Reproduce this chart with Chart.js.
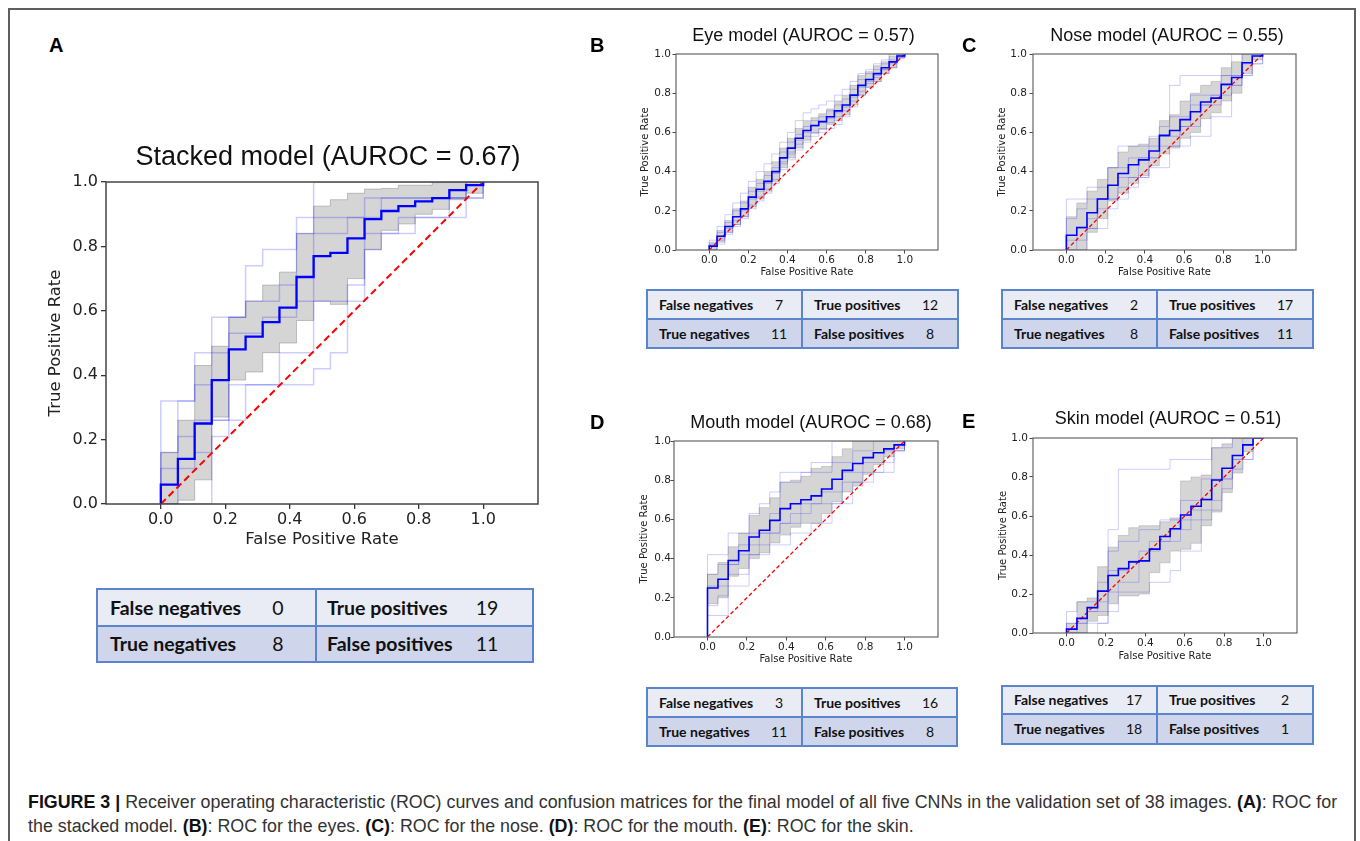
<!DOCTYPE html>
<html><head><meta charset="utf-8"><title>ROC curves</title>
<script src="https://cdn.jsdelivr.net/npm/chart.js@4.4.1/dist/chart.umd.min.js"></script>
<style>
html,body{margin:0;padding:0;background:#fff;}
#page{position:relative;width:1360px;height:841px;overflow:hidden;background:#fff;font-family:"Liberation Sans",Arial,sans-serif;}
#frame{position:absolute;left:8px;top:8px;width:1348px;height:850px;border:2px solid #5e5e5e;border-bottom:none;box-sizing:border-box;}
.letter{position:absolute;font-weight:bold;font-size:20px;line-height:20px;color:#000;}
.ptitle{position:absolute;white-space:nowrap;color:#111;transform:translate(-50%,-50%);line-height:1;}
canvas{position:absolute;}
.cell{position:absolute;box-sizing:border-box;}
.tline{position:absolute;background:#5a84cc;}
.ttxt{position:absolute;white-space:nowrap;font-family:Lato,"Open Sans",sans-serif;color:#111;}
.cap{position:absolute;left:28px;white-space:nowrap;color:#333;line-height:1;transform:translateY(-50%);}
.cap b{color:#111;}
</style></head>
<body><div id="page"><div id="frame"></div></div>
<script>
// ---------- data ----------
const xTickVals = [0, 0.2, 0.4, 0.6, 0.8, 1.0];
const yTickVals = [0, 0.2, 0.4, 0.6, 0.8, 1.0];
const fpr19 = [0, 0.053, 0.105, 0.158, 0.211, 0.263, 0.316, 0.368, 0.421, 0.474, 0.526, 0.579, 0.632, 0.684, 0.737, 0.789, 0.842, 0.895, 0.947, 1.0];
const fpr25 = [0, 0.04, 0.08, 0.12, 0.16, 0.20, 0.24, 0.28, 0.32, 0.36, 0.40, 0.44, 0.48, 0.52, 0.56, 0.60, 0.64, 0.68, 0.72, 0.76, 0.80, 0.84, 0.88, 0.92, 0.96, 1.00];

// A: stacked
const aMean  = [0.06,0.14,0.25,0.385,0.48,0.52,0.565,0.61,0.705,0.77,0.78,0.825,0.885,0.91,0.925,0.94,0.95,0.975,0.99,1.0];
const aUpper = [0.16,0.26,0.43,0.49,0.58,0.63,0.68,0.72,0.84,0.925,0.945,0.965,0.978,0.98,0.99,0.99,1.0,1.0,1.0,1.0];
const aLower = [0,0.012,0.075,0.27,0.385,0.41,0.47,0.50,0.57,0.63,0.62,0.70,0.79,0.85,0.87,0.90,0.915,0.945,0.965,1.0];
const aFolds = [
  [0.32,0.32,0.47,0.58,0.58,0.74,0.79,0.79,0.84,1,1,1,1,1,1,1,1,1,1,1],
  [0.16,0.32,0.37,0.47,0.58,0.63,0.63,0.68,0.89,0.89,0.89,0.89,0.95,0.95,0.95,0.95,0.95,0.95,1,1],
  [0.11,0.21,0.26,0.26,0.53,0.53,0.58,0.58,0.63,0.84,0.84,0.89,0.89,0.95,0.95,0.95,0.95,0.95,1,1],
  [0,0.11,0.16,0.21,0.26,0.37,0.37,0.47,0.47,0.63,0.63,0.68,0.84,0.84,0.89,0.89,0.89,0.89,0.95,1],
  [0,0,0,0.26,0.37,0.37,0.37,0.37,0.37,0.42,0.47,0.63,0.79,0.84,0.84,0.89,0.89,0.95,0.95,1]
];
// B: eye
const bMean  = [0.02,0.07,0.12,0.17,0.21,0.27,0.31,0.35,0.40,0.47,0.52,0.57,0.61,0.635,0.655,0.68,0.71,0.74,0.79,0.84,0.87,0.90,0.93,0.96,0.99,1.0];
const bUpper = [0.04,0.10,0.15,0.21,0.25,0.32,0.36,0.40,0.45,0.52,0.57,0.62,0.66,0.675,0.695,0.72,0.76,0.79,0.84,0.89,0.91,0.94,0.96,0.99,1.0,1.0];
const bLower = [0.0,0.04,0.09,0.13,0.17,0.22,0.26,0.30,0.35,0.42,0.47,0.52,0.56,0.595,0.615,0.64,0.66,0.69,0.74,0.79,0.83,0.86,0.90,0.93,0.98,1.0];
const bFolds = [
  [0.05,0.12,0.18,0.24,0.29,0.35,0.40,0.44,0.49,0.55,0.60,0.66,0.70,0.72,0.74,0.76,0.79,0.82,0.86,0.90,0.92,0.95,0.97,1,1,1],
  [0.03,0.09,0.14,0.20,0.24,0.30,0.34,0.38,0.42,0.50,0.55,0.59,0.63,0.66,0.68,0.71,0.74,0.77,0.82,0.87,0.90,0.92,0.95,0.97,1,1],
  [0.02,0.06,0.11,0.15,0.20,0.26,0.30,0.34,0.39,0.45,0.50,0.56,0.60,0.63,0.65,0.67,0.70,0.73,0.78,0.83,0.86,0.89,0.92,0.96,0.99,1],
  [0.0,0.05,0.09,0.13,0.17,0.23,0.27,0.31,0.36,0.44,0.49,0.54,0.58,0.60,0.62,0.65,0.68,0.71,0.76,0.81,0.85,0.88,0.92,0.95,0.98,1],
  [0.0,0.03,0.08,0.12,0.16,0.21,0.25,0.29,0.34,0.41,0.46,0.51,0.55,0.58,0.60,0.62,0.64,0.68,0.73,0.79,0.83,0.86,0.90,0.93,0.98,1]
];
// C: nose
const cMean  = [0.075,0.115,0.19,0.26,0.33,0.39,0.435,0.46,0.505,0.585,0.61,0.665,0.705,0.755,0.775,0.845,0.88,0.955,0.99,1.0];
const cUpper = [0.17,0.24,0.30,0.36,0.42,0.50,0.53,0.54,0.57,0.66,0.69,0.76,0.80,0.84,0.86,0.93,0.96,1.0,1.0,1.0];
const cLower = [0,0,0.09,0.16,0.25,0.29,0.34,0.38,0.43,0.49,0.52,0.57,0.60,0.67,0.70,0.76,0.80,0.90,0.97,1.0];
const cFolds = [
  [0.26,0.26,0.32,0.32,0.42,0.53,0.53,0.53,0.53,0.63,0.84,0.89,0.89,0.89,0.89,0.89,1,1,1,1],
  [0.16,0.21,0.26,0.26,0.42,0.42,0.47,0.47,0.58,0.58,0.68,0.68,0.79,0.79,0.79,0.89,0.89,1,1,1],
  [0.05,0.11,0.11,0.26,0.26,0.37,0.37,0.47,0.47,0.53,0.53,0.63,0.63,0.74,0.74,0.84,0.84,0.95,0.95,1],
  [0,0,0.16,0.21,0.21,0.32,0.32,0.37,0.42,0.42,0.53,0.53,0.58,0.58,0.68,0.68,0.84,0.89,0.95,1],
  [0,0.05,0.11,0.11,0.26,0.26,0.37,0.37,0.47,0.58,0.58,0.63,0.74,0.74,0.79,0.79,0.89,0.89,1,1]
];
// D: mouth
const dMean  = [0.25,0.295,0.39,0.44,0.51,0.545,0.595,0.655,0.68,0.70,0.72,0.755,0.805,0.85,0.885,0.915,0.94,0.96,0.98,1.0];
const dUpper = [0.32,0.38,0.46,0.53,0.62,0.66,0.71,0.79,0.80,0.82,0.86,0.87,0.92,0.96,1.0,1.0,1.0,1.0,1.0,1.0];
const dLower = [0.17,0.20,0.31,0.35,0.40,0.43,0.48,0.52,0.56,0.58,0.58,0.63,0.69,0.74,0.77,0.83,0.88,0.92,0.96,1.0];
const dFolds = [
  [0.42,0.42,0.53,0.53,0.63,0.68,0.74,0.84,0.84,0.84,0.89,0.89,1,1,1,1,1,1,1,1],
  [0.32,0.37,0.37,0.47,0.53,0.53,0.63,0.79,0.79,0.84,0.84,0.84,0.89,0.89,0.95,0.95,1,1,1,1],
  [0.26,0.26,0.37,0.42,0.42,0.53,0.53,0.58,0.58,0.68,0.68,0.74,0.74,0.84,0.84,0.89,0.89,0.95,0.95,1],
  [0.16,0.21,0.32,0.32,0.42,0.42,0.47,0.47,0.53,0.53,0.58,0.58,0.68,0.68,0.79,0.79,0.84,0.84,0.95,1],
  [0.11,0.11,0.26,0.26,0.47,0.47,0.53,0.58,0.63,0.63,0.68,0.68,0.68,0.79,0.79,0.84,0.84,0.89,0.95,1]
];
// E: skin
const eMean  = [0.02,0.075,0.13,0.215,0.295,0.33,0.365,0.37,0.43,0.495,0.535,0.605,0.65,0.685,0.785,0.845,0.91,0.965,1.0,1.0];
const eUpper = [0.05,0.16,0.18,0.34,0.44,0.50,0.54,0.55,0.55,0.57,0.59,0.78,0.80,0.81,0.95,0.97,1.0,1.0,1.0,1.0];
const eLower = [0,0,0.06,0.09,0.15,0.19,0.19,0.20,0.31,0.36,0.42,0.43,0.46,0.55,0.62,0.72,0.82,0.93,1.0,1.0];
const eFolds = [
  [0.05,0.05,0.11,0.16,0.53,0.84,0.84,0.84,0.84,0.84,0.89,0.89,0.89,0.89,1,1,1,1,1,1],
  [0.11,0.16,0.16,0.26,0.42,0.47,0.47,0.53,0.53,0.58,0.58,0.68,0.68,0.79,0.95,0.95,1,1,1,1],
  [0,0.05,0.11,0.11,0.32,0.32,0.37,0.37,0.47,0.47,0.53,0.53,0.63,0.63,0.79,0.79,0.89,1,1,1],
  [0,0,0.05,0.05,0.21,0.26,0.26,0.42,0.42,0.47,0.47,0.58,0.58,0.68,0.68,0.79,0.84,0.89,1,1],
  [0,0,0,0.05,0.11,0.21,0.21,0.21,0.26,0.26,0.32,0.42,0.42,0.58,0.63,0.74,0.89,0.89,1,1]
];

const titles = {
  A: 'Stacked model (AUROC = 0.67)', B: 'Eye model (AUROC = 0.57)', C: 'Nose model (AUROC = 0.55)',
  D: 'Mouth model (AUROC = 0.68)', E: 'Skin model (AUROC = 0.51)'
};
const tableA = [['False negatives','0','True positives','19'],['True negatives','8','False positives','11']];
const tableB = [['False negatives','7','True positives','12'],['True negatives','11','False positives','8']];
const tableC = [['False negatives','2','True positives','17'],['True negatives','8','False positives','11']];
const tableD = [['False negatives','3','True positives','16'],['True negatives','11','False positives','8']];
const tableE = [['False negatives','17','True positives','2'],['True negatives','18','False positives','1']];

// ---------- layout ----------
const page = document.getElementById('page');
const big = {yw:86, pt:14, pr:10, xh:56, tick:16, lab:16.5, tl:5, mean:2.3, fold:1.5, diag:2, dash:[7,4], frame:1.5, frameColor:'#444', tickW:1.3, band:1};
const small = {yw:50, pt:10, pr:6, xh:32, tick:10.5, lab:10, tl:3.5, mean:1.6, fold:1, diag:1.3, dash:[4,2.5], frame:1.2, frameColor:'#666', tickW:0.9, band:0.7};
const LAY = {
  A: Object.assign({}, big,   {area:[106,182,538,504], ytr:98,   ylx:56,    xty:520,   xly:540,   tx:328,   ty:156, tsz:27, lx:49,  ly:35}),
  B: Object.assign({}, small, {area:[676,54,938,250],  ytr:671,  ylx:645,   xty:260.5, xly:272.5, tx:803.5, ty:35,  tsz:18, lx:590, ly:35}),
  C: Object.assign({}, small, {area:[1033,54,1296,250],ytr:1027, ylx:1002.5,xty:260.5, xly:272.3, tx:1167,  ty:35,  tsz:18, lx:962, ly:35}),
  D: Object.assign({}, small, {area:[674,441,938,637], ytr:671,  ylx:644.5, xty:647.3, xly:659.3, tx:811,   ty:421.7,tsz:18,lx:590, ly:412}),
  E: Object.assign({}, small, {area:[1033,438,1297,633],ytr:1028,ylx:1003,  xty:643.3, xly:656,   tx:1168,  ty:418, tsz:18, lx:962, ly:411})
};

const framePlugin = {
  id: 'axframe',
  afterDatasetsDraw(chart, args, opts) {
    const {ctx, chartArea: a} = chart;
    ctx.save();
    ctx.strokeStyle = opts.color; ctx.lineWidth = opts.width;
    ctx.strokeRect(a.left, a.top, a.right - a.left, a.bottom - a.top);
    ctx.restore();
  }
};

function pts(xs, ys) {
  const out = [{x: 0, y: 0}];
  xs.forEach((x, i) => out.push({x: x, y: ys[i]}));
  return out;
}

function rocChart(key, grid, mean, upper, lower, folds) {
  const L = LAY[key];
  const [al, at, ar, ab] = L.area;
  const cl = al - L.yw, ct = at - L.pt, cr = ar + L.pr, cb = ab + L.xh;
  const cv = document.createElement('canvas');
  cv.width = cr - cl; cv.height = cb - ct;
  cv.style.left = cl + 'px'; cv.style.top = ct + 'px';
  cv.style.width = (cr - cl) + 'px'; cv.style.height = (cb - ct) + 'px';
  page.appendChild(cv);
  const tickLH = L.tick * 1.2, labLH = L.lab * 1.2;
  const fam = '"DejaVu Sans", sans-serif';
  const datasets = [
    {data: pts(grid, upper), stepped: true, fill: '+1', backgroundColor: 'rgba(128,128,128,0.33)',
     borderColor: 'rgba(128,128,128,0.45)', borderWidth: L.band, order: 5},
    {data: pts(grid, lower), stepped: true, fill: false,
     borderColor: 'rgba(128,128,128,0.45)', borderWidth: L.band, order: 5}
  ];
  folds.forEach(f => datasets.push({data: pts(grid, f), stepped: true, fill: false,
     borderColor: 'rgba(0,0,255,0.2)', borderWidth: L.fold, order: 3}));
  datasets.push({data: [{x: 0, y: 0}, {x: 1, y: 1}], fill: false, borderColor: '#ff0000',
     borderWidth: L.diag, borderDash: L.dash, order: 2});
  datasets.push({data: pts(grid, mean), stepped: true, fill: false, borderColor: '#0000ff',
     borderWidth: L.mean, order: 1});
  const axisCommon = {
    type: 'linear',
    border: {display: false},
    grid: {display: true, drawOnChartArea: false, drawTicks: true, tickLength: L.tl, color: '#333', lineWidth: L.tickW},
  };
  new Chart(cv, {
    type: 'line',
    data: {datasets},
    options: {
      responsive: false, animation: false, devicePixelRatio: 1, events: [],
      layout: {padding: {top: L.pt, right: L.pr, left: 0, bottom: 0}},
      elements: {point: {radius: 0}, line: {tension: 0}},
      plugins: {legend: {display: false}, tooltip: {enabled: false}, title: {display: false},
                axframe: {color: L.frameColor, width: L.frame}},
      scales: {
        x: Object.assign({}, axisCommon, {
          position: 'bottom', min: -0.17, max: 1.17,
          afterBuildTicks: s => { s.ticks = xTickVals.map(v => ({value: v})); },
          afterFit: s => { s.height = L.xh; },
          ticks: {callback: v => Number(v).toFixed(1), font: {family: fam, size: L.tick}, color: '#222',
                  padding: L.xty - ab - L.tl - tickLH / 2, maxRotation: 0, autoSkip: false},
          title: {display: true, text: 'False Positive Rate', font: {family: fam, size: L.lab}, color: '#222',
                  padding: {top: 0, bottom: cb - L.xly - labLH / 2}}
        }),
        y: Object.assign({}, axisCommon, {
          position: 'left', min: 0, max: 1,
          afterBuildTicks: s => { s.ticks = yTickVals.map(v => ({value: v})); },
          afterFit: s => { s.width = L.yw; },
          ticks: {callback: v => Number(v).toFixed(1), font: {family: fam, size: L.tick}, color: '#222',
                  padding: al - L.ytr - L.tl, autoSkip: false},
          title: {display: true, text: 'True Positive Rate', font: {family: fam, size: L.lab}, color: '#222',
                  padding: {top: L.ylx - cl - labLH / 2, bottom: 0}}
        })
      }
    },
    plugins: [framePlugin]
  });
  const t = document.createElement('div');
  t.className = 'ptitle'; t.textContent = titles[key];
  t.style.left = L.tx + 'px'; t.style.top = L.ty + 'px'; t.style.fontSize = L.tsz + 'px';
  page.appendChild(t);
  const lt = document.createElement('div');
  lt.className = 'letter'; lt.textContent = key;
  lt.style.left = L.lx + 'px'; lt.style.top = L.ly + 'px';
  page.appendChild(lt);
}

rocChart('A', fpr19, aMean, aUpper, aLower, aFolds);
rocChart('B', fpr25, bMean, bUpper, bLower, bFolds);
rocChart('C', fpr19, cMean, cUpper, cLower, cFolds);
rocChart('D', fpr19, dMean, dUpper, dLower, dFolds);
rocChart('E', fpr19, eMean, eUpper, eLower, eFolds);

// ---------- tables ----------
const TBIG = {fs: 19.5, lab1: 13, num1: 181, lab2: 11, num2: 171, bw: 2};
const TSM  = {fs: 14, lab1: 12, num1: 132, lab2: 12, num2: 128, bw: 1.5};
function el(cls, css) { const d = document.createElement('div'); d.className = cls; Object.assign(d.style, css); page.appendChild(d); return d; }
function makeTable(rows, b, st) {
  const rowsY = [[b.t, b.m], [b.m, b.b]];
  const bgs = ['#e9ebf5', '#cfd5ea'];
  rowsY.forEach((ry, i) => {
    el('cell', {left: b.l + 'px', top: ry[0] + 'px', width: (b.r - b.l) + 'px', height: (ry[1] - ry[0]) + 'px', background: bgs[i]});
    const r = rows[i];
    const items = [[b.l + st.lab1, r[0], true, false], [b.l + st.num1, r[1], false, true],
                   [b.s + st.lab2, r[2], true, false], [b.s + st.num2, r[3], false, true]];
    items.forEach(it => {
      const d = el('ttxt', {left: it[0] + 'px', top: ry[0] + 'px', height: (ry[1] - ry[0]) + 'px',
        lineHeight: (ry[1] - ry[0]) + 'px', fontSize: st.fs + 'px', fontWeight: it[2] ? '700' : '400',
        transform: it[3] ? 'translateX(-50%)' : 'none'});
      d.textContent = it[1];
    });
  });
  const w = st.bw, h = w / 2;
  el('tline', {left: (b.l - h) + 'px', top: (b.t - h) + 'px', width: (b.r - b.l + w) + 'px', height: w + 'px'});
  el('tline', {left: (b.l - h) + 'px', top: (b.m - h) + 'px', width: (b.r - b.l + w) + 'px', height: w + 'px'});
  el('tline', {left: (b.l - h) + 'px', top: (b.b - h) + 'px', width: (b.r - b.l + w) + 'px', height: w + 'px'});
  el('tline', {left: (b.l - h) + 'px', top: (b.t - h) + 'px', width: w + 'px', height: (b.b - b.t + w) + 'px'});
  el('tline', {left: (b.s - h) + 'px', top: (b.t - h) + 'px', width: w + 'px', height: (b.b - b.t + w) + 'px'});
  el('tline', {left: (b.r - h) + 'px', top: (b.t - h) + 'px', width: w + 'px', height: (b.b - b.t + w) + 'px'});
}
makeTable(tableA, {l: 97, t: 589, m: 626, b: 662, r: 533, s: 316}, TBIG);
makeTable(tableB, {l: 647, t: 290, m: 319, b: 348, r: 958, s: 802}, TSM);
makeTable(tableC, {l: 1002, t: 290, m: 319, b: 348, r: 1313, s: 1157}, TSM);
makeTable(tableD, {l: 647, t: 688, m: 717, b: 746, r: 957, s: 802}, TSM);
makeTable(tableE, {l: 1002, t: 686, m: 714, b: 744, r: 1313, s: 1157}, TSM);

// ---------- caption ----------
const c1 = el('cap', {top: '803px', fontSize: '16px'});
c1.innerHTML = '<b>FIGURE 3 |</b> Receiver operating characteristic (ROC) curves and confusion matrices for the final model of all five CNNs in the validation set of 38 images. <b>(A)</b>: ROC for';
const c2 = el('cap', {top: '827px', fontSize: '16px'});
c2.innerHTML = 'the stacked model. <b>(B)</b>: ROC for the eyes. <b>(C)</b>: ROC for the nose. <b>(D)</b>: ROC for the mouth. <b>(E)</b>: ROC for the skin.';
const fitSize = 16 * 1310 / c1.getBoundingClientRect().width;
c1.style.fontSize = fitSize + 'px';
c2.style.fontSize = fitSize + 'px';
</script></body></html>
